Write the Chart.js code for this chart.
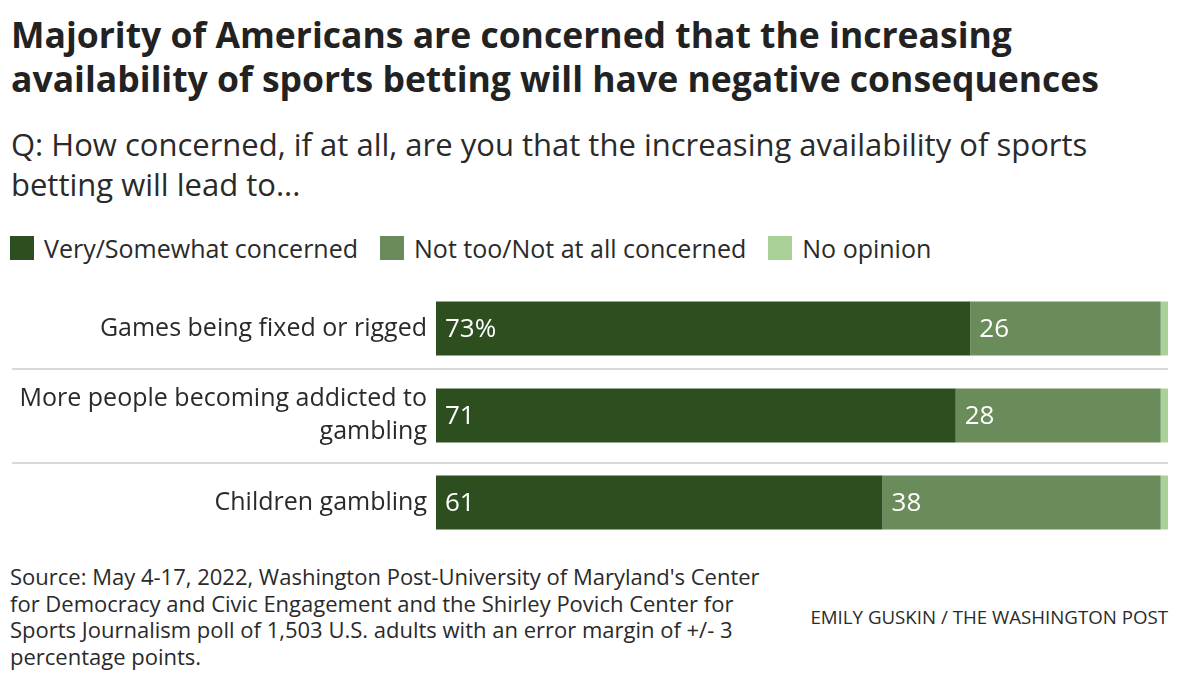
<!DOCTYPE html>
<html>
<head>
<meta charset="utf-8">
<script src="https://cdn.jsdelivr.net/npm/chart.js@4.4.1/dist/chart.umd.min.js"></script>
<style>
  html, body { margin: 0; padding: 0; background: #fff; }
  #wrap { position: relative; width: 1180px; height: 688px; font-family: 'Open Sans', sans-serif; color: #222; }
  .title { position: absolute; left: 11px; top: 12px; font-weight: 700; font-size: 35.5px; line-height: 44px; color: #222; white-space: nowrap; }
  .sub { position: absolute; left: 11px; top: 124px; font-size: 31px; line-height: 40px; color: #2a2a2a; white-space: nowrap; }
  .legend { position: absolute; left: 10px; top: 234px; display: flex; align-items: center; font-size: 25px; line-height: 28px; color: #2a2a2a; }
  .legend span.sw { display: inline-block; width: 24px; height: 24px; margin-right: 10px; }
  .legend .item { display: flex; align-items: center; margin-right: 22px; }
  #chart { position: absolute; left: 0; top: 280px; }
  .note { position: absolute; left: 10px; top: 563px; font-size: 22px; line-height: 26.5px; color: #2a2a2a; white-space: nowrap; }
  .credit { position: absolute; right: 12px; top: 606px; font-size: 18.7px; line-height: 22px; color: #2a2a2a; }
</style>
</head>
<body>
<div id="wrap">
  <div class="title">Majority of Americans are concerned that the increasing<br>availability of sports betting will have negative consequences</div>
  <div class="sub">Q: How concerned, if at all, are you that the increasing availability of sports<br>betting will lead to...</div>
  <div class="legend" id="legend"></div>
  <canvas id="chart" width="1180" height="270"></canvas>
  <div class="note">Source: May 4-17, 2022, Washington Post-University of Maryland's Center<br>for Democracy and Civic Engagement and the Shirley Povich Center for<br>Sports Journalism poll of 1,503 U.S. adults with an error margin of +/- 3<br>percentage points.</div>
  <div class="credit">EMILY GUSKIN / THE WASHINGTON POST</div>
</div>
<script>
// data
const categories = [
  'Games being fixed or rigged',
  ['More people becoming addicted to', 'gambling'],
  'Children gambling'
];
const seriesNames = ['Very/Somewhat concerned', 'Not too/Not at all concerned', 'No opinion'];
const concerned = [73, 71, 61];
const notConcerned = [26, 28, 38];
const noOpinion = [1, 1, 1];
const colors = ['#2d4f1f', '#6a8b5a', '#a8d097'];

// legend
const legendEl = document.getElementById('legend');
seriesNames.forEach(function (name, i) {
  const item = document.createElement('div');
  item.className = 'item';
  item.innerHTML = '<span class="sw" style="background:' + colors[i] + '"></span>' + name;
  legendEl.appendChild(item);
});

// row separators drawn between categories
const separators = {
  id: 'separators',
  beforeDatasetsDraw(chart) {
    const ctx = chart.ctx;
    const y = chart.scales.y;
    const shift = [-3, 4];
    ctx.save();
    ctx.strokeStyle = '#d9d9d9';
    ctx.lineWidth = 2;
    for (let i = 0; i < categories.length - 1; i++) {
      const yy = Math.round((y.getPixelForValue(i) + y.getPixelForValue(i + 1)) / 2 + shift[i]);
      ctx.beginPath();
      ctx.moveTo(12, yy);
      ctx.lineTo(chart.chartArea.right, yy);
      ctx.stroke();
    }
    ctx.restore();
  }
};

// numbers inside bars
const barLabels = {
  id: 'barLabels',
  afterDatasetsDraw(chart) {
    const ctx = chart.ctx;
    ctx.save();
    ctx.font = '26px "Open Sans"';
    ctx.fillStyle = '#fff';
    ctx.textBaseline = 'middle';
    ctx.textAlign = 'left';
    [0, 1].forEach(function (di) {
      const meta = chart.getDatasetMeta(di);
      meta.data.forEach(function (bar, i) {
        const v = chart.data.datasets[di].data[i];
        const txt = (di === 0 && i === 0) ? v + '%' : String(v);
        ctx.fillText(txt, bar.base + 9, bar.y + 1);
      });
    });
    ctx.restore();
  }
};

new Chart(document.getElementById('chart').getContext('2d'), {
  type: 'bar',
  data: {
    labels: categories,
    datasets: [
      { label: seriesNames[0], data: concerned, backgroundColor: colors[0] },
      { label: seriesNames[1], data: notConcerned, backgroundColor: colors[1] },
      { label: seriesNames[2], data: noOpinion, backgroundColor: colors[2] }
    ]
  },
  options: {
    indexAxis: 'y',
    responsive: false,
    animation: false,
    devicePixelRatio: 1,
    layout: { padding: { top: 5, bottom: 4, left: 0, right: 12 } },
    datasets: { bar: { barPercentage: 0.62, categoryPercentage: 1, borderWidth: 0 } },
    plugins: { legend: { display: false }, tooltip: { enabled: false } },
    scales: {
      x: { stacked: true, min: 0, max: 100, display: false },
      y: {
        stacked: true,
        grid: { display: false },
        border: { display: false },
        ticks: {
          color: '#2a2a2a',
          padding: 1,
          font: { family: 'Open Sans', size: 25, lineHeight: 1.32 }
        },
        afterFit(scale) {
          scale.width = 436;
          scale.paddingTop = 0;
          scale.paddingBottom = 0;
        }
      }
    }
  },
  plugins: [separators, barLabels]
});
</script>
</body>
</html>
